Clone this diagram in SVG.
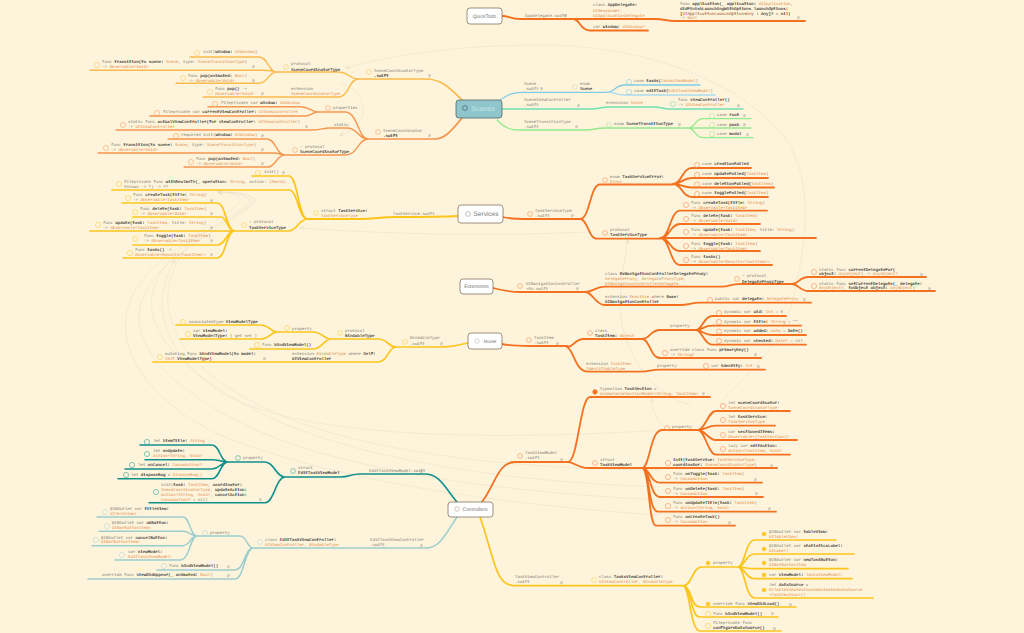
<svg xmlns="http://www.w3.org/2000/svg" width="1024" height="633" viewBox="0 0 1024 633">
<style>
text{font-family:"Liberation Mono","DejaVu Sans Mono",monospace;font-size:4.1px;fill:#7d7c72;dominant-baseline:central;text-rendering:geometricPrecision}
.n{fill:#1c1c1c;stroke:#1c1c1c;stroke-width:.08}
.o{fill:#e08a48}
.node text{font-family:"Liberation Sans",Arial,sans-serif;font-size:5px;fill:#777;text-anchor:middle}
.node rect{fill:#fff;stroke:#85735f;stroke-width:.8}
circle{fill:none;stroke-width:.6}
path{fill:none;stroke-linecap:round}
.y1 path{stroke:#fbbb4c;stroke-width:1.4}.y1 circle{stroke:#fbc66c}
.o1 path{stroke:#f6964f;stroke-width:1.4}.o1 circle{stroke:#f7a366}
.o2 path{stroke:#f4711f;stroke-width:1.8}.o2 circle{stroke:#f59058}
.yl path{stroke:#fcc51c;stroke-width:1.7}.yl circle{stroke:#fbcf45}
.bl path{stroke:#7fcbe4;stroke-width:1.3}.bl circle{stroke:#86cfe6}
.mt path{stroke:#72e0b0;stroke-width:1.4}.mt circle{stroke:#72e0b0}
.gr path{stroke:#93ea8a;stroke-width:1.3}.gr circle{stroke:#a5e89c}
.te path{stroke:#10908c;stroke-width:1.6}.te circle{stroke:#3aa5a0}
.lt path{stroke:#9ccdcd;stroke-width:1.5}.lt circle{stroke:#b5d8d6}
.f{fill:#fbc51c;stroke:#d9a010}
.fo{fill:#f4711f;stroke:#f4711f}
#faint path{stroke:#e9e3cb;stroke-width:.6;marker-end:url(#ah)}
</style>
<defs>
<marker id="ah" markerWidth="5" markerHeight="5" refX="4" refY="2.5" orient="auto" markerUnits="userSpaceOnUse"><path d="M0 .5L4 2.5L0 4.5" style="stroke:#ddd6ba;stroke-width:.5"/></marker>
<g id="p"><path d="M0-1.2H1.4V.2H0M0-1.2V1.2" style="stroke:#a5a39a;stroke-width:.5"/></g>
</defs>
<rect width="1024" height="633" fill="#fef4dc"/>
<g id="faint">
<path d="M727 405C700 408 775 365 790 310C805 255 815 190 790 145C750 85 650 45 540 45C460 45 390 55 346 68"/>
<path d="M340 84C372 90 370 130 340 135"/>
<path d="M590 232C500 236 400 235 300 228"/>
<path d="M690 405C655 395 625 360 620 310C620 280 625 260 628 240"/>
<path d="M667 428C655 420 652 410 652 399"/>
<path d="M660 515C500 505 330 480 220 435C135 395 90 320 160 262C190 235 270 205 250 196C240 192 230 192 218 192"/>
<path d="M660 500C500 492 330 470 235 420C150 375 105 320 170 262C200 235 265 205 254 198C245 194 232 192 218 192"/>
<path d="M660 487C510 482 350 460 255 410C170 365 115 310 180 250C210 225 255 205 250 200C244 195 232 192 218 192"/>
<path d="M660 470C510 470 350 450 270 410C190 375 130 310 196 235C215 218 245 205 240 198C235 194 228 192 218 192"/>
<path d="M665 430C500 440 310 440 225 395C170 360 145 310 175 260"/>
</g>
<g id="connectors">
<g class="y1"><path d="M277 72C268 72 268 57 259 57H190M277 72C272 71 270 70.3 262 70.3H90M277 72C268 72 268 83.3 259 83.3H176M358 79C349 79 349 72 338 72H277M358 79C349 79 349 97 338 97H203"/><path style="stroke-width:1.7" d="M462 100C450 88 442 79 425 79H358"/></g>
<g class="o1"><path d="M318 112C311 112 310 106.7 300 106.7H208M318 112C312 112 312 116 305 116H150M368 139C358 139 358 112 345 112H318M368 139C358 139 358 128 347 128H330C322 128 322 130 312 130H116M285 155C276 155 276 139 267 139H168M285 155C280 154 278 153 272 153H98M285 155C276 155 276 167 268 167H184M368 139C358 139 358 155 345 155H285"/><path style="stroke-width:1.7" d="M462 118C452 130 445 139 435 139H368"/></g>
<g class="bl"><path d="M500 100C508 95 512 92.3 522 92.3H607C615 92 615 85 625 85H700"/><path style="stroke:#a9daee" d="M607 92C615 92 615 95 625 95H715"/></g>
<g class="mt"><path d="M502 109H590C600 109 600 107 610 107H655C662 107 662 109 670 109H743"/></g>
<g class="gr"><path d="M497 120C505 128 510 130 520 130H585C595 130 595 128 605 128H688M688 128C695 128 695 118.7 703 118.7H751M688 128H751M688 128C695 128 695 137.7 703 137.7H753"/></g>
<g class="o2"><path d="M502 16C510 16 510 19 520 19H655C665 19 665 21 675 21H805M573 19C580 19 580 30.5 590 30.5H648"/>
<path d="M503 217C510 219 515 219 530 219H580M580 219C590 219 590 184.5 600 184.5H673M580 219C588 219 588 238.7 597 238.7H660"/>
<path d="M673 184C682 184 682 168 692 168H751M673 184C682 184 682 178 692 178H768M673 184C682 184 682 187.5 692 187.5H774M673 184C682 184 682 197 692 197H768M660 238C670 238 670 210.7 680 210.7H767M660 238C670 238 670 224 680 224H760M660 238H816M660 238C670 238 670 251 680 251H760M660 238C670 238 670 265 680 265H772"/>
<path d="M493 288C505 291 510 292 520 292H585M585 292C593 292 595 286.7 605 286.7H722C730 286.7 730 284 740 284H792M585 292C593 292 595 305 605 305H680C690 305 690 302.7 700 302.7H811M792 284C798 284 800 277 808 277H926M792 284C798 284 800 291 808 291H935"/>
<path d="M502 344C512 346 520 346 530 346H567M567 347C574 347 574 339 584 339H642M567 347C574 350 575 371.7 588 371.7H640C650 371.7 650 369.7 660 369.7H765M642 339C650 339 650 330 660 330H696M642 339C650 339 650 358 660 358H761M696 330C702 330 704 316 712 316H786M696 330C702 330 704 325.7 712 325.7H801M696 330C702 330 704 335 712 335H806M696 330C702 330 704 344.7 712 344.7H806"/>
<path d="M482 502C495 485 498 462 515 462H568M568 462C578 462 580 397 590 397H710M568 462C574 462 578 468 588 468H642M642 468C650 468 650 430 662 430H698M698 430C705 430 708 411 716 411H790M698 430C705 430 708 425.7 716 425.7H775M698 430C705 430 708 440 716 440H797M698 430C705 430 708 454.7 716 454.7H790M642 468H777M642 468C650 468 650 482.7 660 482.7H762M642 468C650 468 650 497 660 497H763M642 468C650 468 648 511.7 658 511.7H776M642 468C650 468 648 525.7 656 525.7H735"/></g>
<g class="yl"><path style="stroke-width:1.9" d="M458 216C440 217 420 217 395 217C380 217 375 219 360 219H308"/>
<path d="M308 219C298 219 298 176 289 176H252M308 219C298 219 298 190 289 190H112M308 219C298 219 298 231 288 231H235M235 231C226 231 226 203 217 203H122M235 231C227 231 227 217 221 217H133M235 231H90M235 231C226 231 226 245 217 245H133M235 231C226 231 226 258 217 258H123"/>
<path d="M468 343C455 346 450 347 435 347H396M396 347C388 347 388 339 378 339H331M396 347C388 347 388 362 378 362H153M331 339C324 339 322 332 313 332H277M331 339C324 339 322 349 313 349H250M277 332C270 332 270 325 260 325H176M277 332C270 332 270 339 260 339H180"/>
<path d="M480 517C495 560 495 585.7 515 585.7H683M683 586C692 586 692 567 702 567H738M738 567C745 567 745 540 755 540H836M738 567C745 567 745 554 755 554H854M738 567C745 567 745 568.7 755 568.7H848M738 567C745 567 745 578.7 755 578.7H852M738 567C745 567 745 598 755 598H873M683 586C692 586 690 607 700 607H796M683 586C692 586 690 617 700 617H778M683 586C690 586 690 631 700 631H781"/></g>
<g class="te"><path d="M457 502C445 488 440 474 425 474H360C350 474 350 477 340 477H285M285 477C276 477 274 462 265 462H228M285 477C276 477 274 502.7 265 502.7H149M228 462C220 462 220 445 212 445H140M228 462C220 462 220 459.7 212 459.7H145M228 462C220 462 220 469 212 469H125M228 462C220 462 220 478.7 212 478.7H118"/></g>
<g class="lt"><path d="M457 517C445 535 440 548 425 548H253M253 548C247 548 247 536 240 536H197M253 548C245 548 244 570 235 570H157M253 548C245 548 244 579 235 579H88M197 536C190 536 190 517 183 517H97M197 536C190 536 190 531.3 183 531.3H99M197 536C190 536 190 545.7 183 545.7H92M197 536C190 536 190 560 180 560H115"/></g>
</g>
<g id="Scenes" class="node"><rect x="456" y="100" width="46" height="18" rx="3" style="fill:#8fc6ce;stroke:#55625f"/><circle cx="465" cy="108" r="2.4" stroke="#445"/><text x="483" y="109.5" style="font-size:7px;fill:#c6e6e6">Scenes</text></g>
<g id="QuickTodo" class="node"><rect x="467" y="8" width="35" height="16" rx="3"/><text x="484.5" y="16.5">QuickTodo</text></g>
<g id="Services" class="node"><rect x="458" y="205" width="45" height="18" rx="3"/><circle cx="468" cy="214" r="2.4" stroke="#999"/><text x="486" y="214.5" style="font-size:6.5px">Services</text></g>
<g id="Extensions" class="node"><rect x="460" y="279" width="33" height="15" rx="3"/><text x="476.5" y="287">Extensions</text></g>
<g id="Model" class="node"><rect x="468" y="333" width="34" height="16" rx="3"/><circle cx="477" cy="341" r="2.2" stroke="#bbb"/><text x="490" y="341.5" style="font-size:4.6px">Model</text></g>
<g id="Controllers" class="node"><rect x="448" y="502" width="45" height="15" rx="3"/><circle cx="457" cy="509" r="2.3" stroke="#b99"/><text x="475" y="510" style="font-size:5.2px">Controllers</text></g>

<g id="n1" class="y1"><circle cx="197" cy="53" r="2.6"/><text x="203" y="53">init(<tspan class="n">window:</tspan> <tspan class="o">UIWindow</tspan>)</text></g>
<g id="n2" class="y1"><circle cx="97" cy="65" r="2.6"/><text x="102" y="63">func <tspan class="n">transition(to scene:</tspan> <tspan class="o">Scene</tspan>, type: <tspan class="o">SceneTransitionType</tspan>)</text><text x="102" y="68">-&gt; <tspan class="o">Observable&lt;Void&gt;</tspan></text><use href="#p" x="253" y="67"/></g>
<g id="n3" class="y1"><circle cx="183" cy="78" r="2.6"/><text x="188" y="77">func <tspan class="n">pop(animated:</tspan> <tspan class="o">Bool</tspan>)</text><text x="188" y="82">-&gt; <tspan class="o">Observable&lt;Void&gt;</tspan></text><use href="#p" x="253" y="81"/></g>
<g id="n4" class="y1"><circle cx="286" cy="67" r="2.4"/><text x="291" y="65">protocol</text><text x="291" y="70.5" class="n">SceneCoordinatorType</text></g>
<g id="n5" class="y1"><circle cx="210" cy="92" r="2.6"/><text x="215" y="90">func <tspan class="n">pop()</tspan> -&gt;</text><text x="215" y="95" class="o">Observable&lt;Void&gt;</text><use href="#p" x="262" y="94"/></g>
<g id="n6" class="y1"><text x="291" y="90">extension</text><text x="291" y="95" class="o">SceneCoordinatorType</text></g>
<g id="n7" class="y1"><circle cx="369" cy="72" r="2.4"/><text x="374" y="72">SceneCoordinatorType</text><text x="374" y="77" class="n">.swift</text><use href="#p" x="429" y="76"/></g>
<g id="n8" class="o1"><circle cx="215" cy="104" r="2.6"/><text x="221" y="104">fileprivate var <tspan class="n">window:</tspan> <tspan class="o">UIWindow</tspan></text></g>
<g id="n9" class="o1"><circle cx="157" cy="113" r="2.6"/><text x="163" y="113">fileprivate var <tspan class="n">currentViewController:</tspan> <tspan class="o">UIViewController</tspan></text></g>
<g id="n10" class="o1"><circle cx="328" cy="108" r="2.4"/><text x="333" y="109">properties</text></g>
<g id="n11" class="o1"><circle cx="123" cy="125" r="2.6"/><text x="128" y="123">static func <tspan class="n">actualViewController(for viewController:</tspan> <tspan class="o">UIViewController</tspan>)</text><text x="128" y="128">-&gt; <tspan class="o">UIViewController</tspan></text><use href="#p" x="306" y="127"/></g>
<g id="n12" class="o1"><text x="334" y="125.5">static</text></g>
<g id="n13" class="o1"><circle cx="176" cy="136" r="2.6"/><text x="181" y="136">required init(<tspan class="n">window:</tspan> <tspan class="o">UIWindow</tspan>)</text><use href="#p" x="262" y="136"/></g>
<g id="n14" class="o1"><circle cx="106" cy="148" r="2.6"/><text x="111" y="146">func <tspan class="n">transition(to scene:</tspan> <tspan class="o">Scene</tspan>, type: <tspan class="o">SceneTransitionType</tspan>)</text><text x="111" y="151">-&gt; <tspan class="o">Observable&lt;Void&gt;</tspan></text><use href="#p" x="262" y="150"/></g>
<g id="n15" class="o1"><circle cx="191" cy="162" r="2.6"/><text x="196" y="160">func <tspan class="n">pop(animated:</tspan> <tspan class="o">Bool</tspan>)</text><text x="196" y="165">-&gt; <tspan class="o">Observable&lt;Void&gt;</tspan></text><use href="#p" x="262" y="164"/></g>
<g id="n16" class="o1"><circle cx="295" cy="150" r="2.4"/><text x="300" y="148">— protocol</text><text x="300" y="153" class="n">SceneCoordinatorType</text></g>
<g id="n17" class="o1"><circle cx="378" cy="132" r="2.4"/><text x="383" y="132">SceneCoordinator</text><text x="383" y="137" class="n">.swift</text><use href="#p" x="429" y="136"/></g>

<g id="n18" class="bl"><text x="524" y="85">Scene</text><text x="524" y="90">.swift</text><use href="#p" x="541" y="89"/></g>
<g id="n19" class="bl"><circle cx="575" cy="87" r="2.4" style="stroke:#cfd7b5"/><text x="580" y="85">enum</text><text x="580" y="90" class="n">Scene</text></g>
<g id="n20" class="bl"><circle cx="629" cy="82" r="2.6"/><text x="634" y="82">case <tspan class="n">tasks(</tspan><tspan class="o">TasksViewModel</tspan>)</text></g>
<g id="n21" class="bl"><circle cx="629" cy="92" r="2.6"/><text x="634" y="92">case <tspan class="n">editTask(</tspan><tspan class="o">EditTaskViewModel</tspan>)</text></g>
<g id="n22" class="mt"><text x="524" y="101">SceneViewController</text><text x="524" y="106">.swift</text><use href="#p" x="578" y="106"/></g>
<g id="n23" class="mt"><text x="606" y="104">extension <tspan class="o">Scene</tspan></text></g>
<g id="n24" class="mt"><circle cx="673" cy="104" r="2.6"/><text x="678" y="101">func <tspan class="n">viewController()</tspan></text><text x="678" y="106">-&gt; <tspan class="o">UIViewController</tspan></text><use href="#p" x="738" y="106"/></g>
<g id="n25" class="gr"><text x="524" y="123">SceneTransitionType</text><text x="524" y="128">.swift</text><use href="#p" x="576" y="127"/></g>
<g id="n26" class="gr"><circle cx="609" cy="125" r="2.4"/><text x="614" y="125">enum <tspan class="n">SceneTransitionType</tspan></text><use href="#p" x="679" y="125"/></g>
<g id="n27" class="gr"><circle cx="712" cy="116" r="2.6"/><text x="717" y="116">case <tspan class="n">root</tspan></text><use href="#p" x="744" y="116"/></g>
<g id="n28" class="gr"><circle cx="712" cy="125" r="2.6"/><text x="717" y="125.5">case <tspan class="n">push</tspan></text><use href="#p" x="744" y="125"/></g>
<g id="n29" class="gr"><circle cx="712" cy="134" r="2.6"/><text x="717" y="135">case <tspan class="n">modal</tspan></text><use href="#p" x="747" y="135"/></g>

<g id="n30" class="o2"><text x="525" y="16.5">AppDelegate.swift</text><use href="#p" x="565" y="16"/></g>
<g id="n31" class="o2"><text x="593" y="6">class <tspan class="n">AppDelegate:</tspan></text><text x="593" y="11.5" class="o">UIResponder,</text><text x="593" y="16.5" class="o">UIApplicationDelegate</text></g>
<g id="n32" class="o2"><text x="680" y="4.5">func <tspan class="n">application(_ application:</tspan> <tspan class="o">UIApplication</tspan>,</text><text x="680" y="9.5" class="n">didFinishLaunchingWithOptions launchOptions:</text><text x="680" y="14.5" class="n">[<tspan class="o">UIApplicationLaunchOptionsKey</tspan> : Any]? = nil)</text><text x="680" y="19">-&gt; <tspan class="o">Bool</tspan></text><use href="#p" x="798" y="18"/></g>
<g id="n33" class="o2"><text x="593" y="28">var <tspan class="n">window:</tspan> <tspan class="o">UIWindow?</tspan></text></g>

<g id="n34" class="yl"><circle cx="258" cy="173" r="2.6"/><text x="264" y="173">init()</text><use href="#p" x="283" y="173"/></g>
<g id="n35" class="yl"><circle cx="119" cy="184" r="2.6"/><text x="124" y="182.5">fileprivate func <tspan class="n">withRealm&lt;T&gt;(_ operation:</tspan> <tspan class="o">String</tspan>, action: <tspan class="o">(Realm)</tspan></text><text x="124" y="187.5">throws -&gt; T) -&gt; T?</text></g>
<g id="n36" class="yl"><circle cx="316" cy="213" r="2.4"/><text x="321" y="212">struct <tspan class="n">TaskService:</tspan></text><text x="321" y="217" class="o">TaskServiceType</text></g>
<g id="n37" class="yl"><text x="393" y="215">TaskService.swift</text></g>
<g id="n38" class="yl"><circle cx="244" cy="225" r="2.4"/><text x="249" y="223">— protocol</text><text x="249" y="228.5" class="n">TaskServiceType</text></g>
<g id="n39" class="yl"><circle cx="128" cy="198" r="2.6"/><text x="133" y="196">func <tspan class="n">createTask(title:</tspan> <tspan class="o">String</tspan>)</text><text x="133" y="201">-&gt; <tspan class="o">Observable&lt;TaskItem&gt;</tspan></text><use href="#p" x="211" y="201"/></g>
<g id="n40" class="yl"><circle cx="135" cy="212" r="2.6"/><text x="140" y="209.5">func <tspan class="n">delete(task:</tspan> <tspan class="o">TaskItem</tspan>)</text><text x="140" y="214.5">-&gt; <tspan class="o">Observable&lt;Void&gt;</tspan></text><use href="#p" x="211" y="214"/></g>
<g id="n41" class="yl"><circle cx="98" cy="225" r="2.6"/><text x="103" y="224">func <tspan class="n">update(task:</tspan> <tspan class="o">TaskItem</tspan>, title: <tspan class="o">String</tspan>)</text><text x="103" y="228.5">-&gt; <tspan class="o">Observable&lt;TaskItem&gt;</tspan></text><use href="#p" x="211" y="228"/></g>
<g id="n42" class="yl"><circle cx="135" cy="239" r="2.6"/><text x="144" y="237">func <tspan class="n">toggle(task:</tspan> <tspan class="o">TaskItem</tspan>)</text><text x="144" y="242">-&gt; <tspan class="o">Observable&lt;TaskItem&gt;</tspan></text><use href="#p" x="211" y="241"/></g>
<g id="n43" class="yl"><circle cx="130" cy="253" r="2.6"/><text x="135" y="250.5">func <tspan class="n">tasks()</tspan> -&gt;</text><text x="135" y="255.5" class="o">Observable&lt;Results&lt;TaskItem&gt;&gt;</text><use href="#p" x="211" y="255"/></g>

<g id="n44" class="o2"><circle cx="530" cy="214" r="2.4"/><text x="535" y="212">TaskServiceType</text><text x="535" y="217">.swift</text><use href="#p" x="572" y="216"/></g>
<g id="n45" class="o2"><circle cx="605" cy="180" r="2.4"/><text x="610" y="178">enum  <tspan class="n">TaskServiceError:</tspan></text><text x="610" y="183" class="o">Error</text></g>
<g id="n46" class="o2"><circle cx="605" cy="233" r="2.4"/><text x="610" y="231">protocol</text><text x="610" y="236" class="n">TaskServiceType</text></g>
<g id="n47" class="o2"><circle cx="697" cy="165" r="2.6"/><text x="702" y="165">case <tspan class="n">creationFailed</tspan></text></g>
<g id="n48" class="o2"><circle cx="697" cy="175" r="2.6"/><text x="702" y="175">case <tspan class="n">updateFailed(</tspan><tspan class="o">TaskItem</tspan>)</text></g>
<g id="n49" class="o2"><circle cx="697" cy="184.5" r="2.6"/><text x="702" y="184.5">case <tspan class="n">deletionFailed(</tspan><tspan class="o">TaskItem</tspan>)</text></g>
<g id="n50" class="o2"><circle cx="697" cy="194" r="2.6"/><text x="702" y="194">case <tspan class="n">toggleFailed(</tspan><tspan class="o">TaskItem</tspan>)</text></g>
<g id="n51" class="o2"><circle cx="686" cy="205" r="2.6"/><text x="691" y="204">func <tspan class="n">createTask(title:</tspan> <tspan class="o">String</tspan>)</text><text x="691" y="209">-&gt; <tspan class="o">Observable&lt;TaskItem&gt;</tspan></text></g>
<g id="n52" class="o2"><circle cx="686" cy="219" r="2.6"/><text x="691" y="217">func <tspan class="n">delete(task:</tspan> <tspan class="o">TaskItem</tspan>)</text><text x="691" y="222">-&gt; <tspan class="o">Observable&lt;Void&gt;</tspan></text></g>
<g id="n53" class="o2"><circle cx="686" cy="232" r="2.6"/><text x="691" y="231">func <tspan class="n">update(task:</tspan> <tspan class="o">TaskItem</tspan>, title: <tspan class="o">String</tspan>)</text><text x="691" y="236">-&gt; <tspan class="o">Observable&lt;TaskItem&gt;</tspan></text></g>
<g id="n54" class="o2"><circle cx="686" cy="246" r="2.6"/><text x="691" y="244.5">func <tspan class="n">toggle(task:</tspan> <tspan class="o">TaskItem</tspan>)</text><text x="691" y="249.5">-&gt; <tspan class="o">Observable&lt;TaskItem&gt;</tspan></text></g>
<g id="n55" class="o2"><circle cx="686" cy="260" r="2.6"/><text x="691" y="258">func <tspan class="n">tasks()</tspan></text><text x="691" y="263">-&gt; <tspan class="o">Observable&lt;Results&lt;TaskItem&gt;&gt;</tspan></text></g>

<g id="n56" class="o2"><circle cx="520" cy="286" r="2.4"/><text x="526" y="284.5">UINavigationController</text><text x="526" y="290">+Rx.swift</text><use href="#p" x="577" y="289"/></g>
<g id="n57" class="o2"><text x="605" y="274.5">class <tspan class="n">RxNavigationControllerDelegateProxy:</tspan></text><text x="605" y="280" class="o">DelegateProxy, DelegateProxyType,</text><text x="605" y="285" class="o">UINavigationControllerDelegate</text></g>
<g id="n58" class="o2"><text x="605" y="298">extension <tspan class="o">Reactive</tspan> where <tspan class="n">Base:</tspan></text><text x="605" y="303" class="n">UINavigationController</text></g>
<g id="n59" class="o2"><circle cx="737" cy="279" r="2.4"/><text x="742" y="277">— protocol</text><text x="742" y="282.5" class="n">DelegateProxyType</text></g>
<g id="n60" class="o2"><circle cx="814" cy="272" r="2.6"/><text x="819" y="270.5">static func <tspan class="n">currentDelegateFor(</tspan></text><text x="819" y="275"><tspan class="n">object:</tspan> <tspan class="o">AnyObject</tspan>) -&gt; <tspan class="o">AnyObject?</tspan></text><use href="#p" x="921" y="275"/></g>
<g id="n61" class="o2"><circle cx="814" cy="286" r="2.6"/><text x="819" y="284.5">static func <tspan class="n">setCurrentDelegate(_ delegate:</tspan></text><text x="819" y="289"><tspan class="o">AnyObject?</tspan>, <tspan class="n">toObject object:</tspan> <tspan class="o">AnyObject</tspan>)</text><use href="#p" x="929" y="289"/></g>
<g id="n62" class="o2"><circle cx="710" cy="300" r="2.6"/><text x="715" y="300">public var <tspan class="n">delegate:</tspan> <tspan class="o">DelegateProxy</tspan></text><use href="#p" x="804" y="300"/></g>

<g id="n63" class="yl"><circle cx="183" cy="322" r="2.6"/><text x="189" y="322.5">associatedtype <tspan class="n">ViewModelType</tspan></text></g>
<g id="n64" class="yl"><circle cx="188" cy="334" r="2.6"/><text x="193" y="332">var <tspan class="n">viewModel:</tspan></text><text x="193" y="337"><tspan class="n">ViewModelType!</tspan> { get set }</text></g>
<g id="n65" class="yl"><circle cx="287" cy="328" r="2.4"/><text x="292" y="329.5">property</text></g>
<g id="n66" class="yl"><circle cx="340" cy="333" r="2.4"/><text x="345" y="332">protocol</text><text x="345" y="337" class="n">BindableType</text></g>
<g id="n67" class="yl"><circle cx="257" cy="345" r="2.6"/><text x="262" y="345.5">func <tspan class="n">bindViewModel()</tspan></text></g>
<g id="n68" class="yl"><circle cx="405" cy="342" r="2.4"/><text x="410" y="339">BindableType</text><text x="410" y="344.5">.swift</text><use href="#p" x="441" y="344"/></g>
<g id="n69" class="yl"><circle cx="160" cy="357" r="2.6"/><text x="165" y="355">mutating func <tspan class="n">bindViewModel(to model:</tspan></text><text x="165" y="360"><tspan class="o">Self</tspan>.<tspan class="n">ViewModelType)</tspan></text><use href="#p" x="264" y="359"/></g>
<g id="n70" class="yl"><text x="292" y="355">extension <tspan class="o">BindableType</tspan> where <tspan class="n">Self:</tspan></text><text x="292" y="360" class="n">UIViewController</text></g>

<g id="n71" class="o2"><circle cx="529" cy="340" r="2.4"/><text x="534" y="339">TaskItem</text><text x="534" y="344">.swift</text><use href="#p" x="557" y="344"/></g>
<g id="n72" class="o2"><circle cx="590" cy="333" r="2.4"/><text x="595" y="332">class</text><text x="595" y="337"><tspan class="n">TaskItem:</tspan> <tspan class="o">Object</tspan></text></g>
<g id="n73" class="o2"><text x="670" y="327">property</text></g>
<g id="n74" class="o2"><circle cx="719" cy="313" r="2.6"/><text x="724" y="313">dynamic var <tspan class="n">uid:</tspan> <tspan class="o">Int</tspan> = 0</text></g>
<g id="n75" class="o2"><circle cx="719" cy="322" r="2.6"/><text x="724" y="322.5">dynamic var <tspan class="n">title:</tspan> <tspan class="o">String</tspan> = ""</text></g>
<g id="n76" class="o2"><circle cx="719" cy="331.5" r="2.6"/><text x="724" y="331.5">dynamic var <tspan class="n">added:</tspan> <tspan class="o">Date</tspan> = <tspan class="n">Date()</tspan></text></g>
<g id="n77" class="o2"><circle cx="719" cy="341" r="2.6"/><text x="724" y="341.5">dynamic var <tspan class="n">checked:</tspan> <tspan class="o">Date?</tspan> = nil</text></g>
<g id="n78" class="o2"><circle cx="665" cy="353" r="2.6"/><text x="670" y="351">override class func <tspan class="n">primaryKey()</tspan></text><text x="670" y="356">-&gt; <tspan class="o">String?</tspan></text><use href="#p" x="755" y="355"/></g>
<g id="n79" class="o2"><text x="586" y="365">extension <tspan class="o">TaskItem:</tspan></text><text x="586" y="370" class="o">IdentifiableType</text></g>
<g id="n80" class="o2"><text x="657" y="367">property</text></g>
<g id="n81" class="o2"><circle cx="706" cy="366" r="2.6"/><text x="711" y="367">var <tspan class="n">identity:</tspan> <tspan class="o">Int</tspan></text><use href="#p" x="758" y="367"/></g>

<g id="n82" class="o2"><circle cx="520" cy="456" r="2.4"/><text x="525" y="454">TaskViewModel</text><text x="525" y="459">.swift</text><use href="#p" x="561" y="460"/></g>
<g id="n83" class="o2"><circle class="fo" cx="595" cy="392" r="2.4"/><text x="600" y="390">typealias <tspan class="n">TaskSection =</tspan></text><text x="600" y="395" class="o">AnimatableSectionModel&lt;String, TaskItem&gt;</text><use href="#p" x="703" y="394"/></g>
<g id="n84" class="o2"><circle cx="595" cy="463" r="2.4"/><text x="600" y="461">struct</text><text x="600" y="466" class="n">TaskViewModel</text></g>
<g id="n85" class="o2"><circle cx="667" cy="428" r="2.4"/><text x="672" y="428">property</text></g>
<g id="n86" class="o2"><circle cx="723" cy="406" r="2.6"/><text x="728" y="404">let <tspan class="n">sceneCoordinator:</tspan></text><text x="728" y="409" class="o">SceneCoordinatorType</text></g>
<g id="n87" class="o2"><circle cx="723" cy="420" r="2.6"/><text x="728" y="418">let <tspan class="n">taskService:</tspan></text><text x="728" y="423" class="o">TaskServiceType</text></g>
<g id="n88" class="o2"><circle cx="723" cy="435" r="2.6"/><text x="728" y="433">var <tspan class="n">sectionedItems:</tspan></text><text x="728" y="438" class="o">Observable&lt;[TaskSection]&gt;</text></g>
<g id="n89" class="o2"><circle cx="723" cy="449" r="2.6"/><text x="728" y="447">lazy var <tspan class="n">editAction:</tspan></text><text x="728" y="452" class="o">Action&lt;TaskItem, Void&gt;</text></g>
<g id="n90" class="o2"><circle cx="668" cy="463" r="2.6"/><text x="673" y="461"><tspan class="n">init(taskService:</tspan> <tspan class="o">TaskServiceType</tspan>,</text><text x="673" y="466"><tspan class="n">coordinator:</tspan> <tspan class="o">SceneCoordinatorType</tspan>)</text><use href="#p" x="771" y="466"/></g>
<g id="n91" class="o2"><circle cx="668" cy="477" r="2.6"/><text x="673" y="475">func <tspan class="n">onToggle(task:</tspan> <tspan class="o">TaskItem</tspan>)</text><text x="673" y="480">-&gt; <tspan class="o">CocoaAction</tspan></text><use href="#p" x="755" y="480"/></g>
<g id="n92" class="o2"><circle cx="668" cy="491" r="2.6"/><text x="673" y="489.5">func <tspan class="n">onDelete(task:</tspan> <tspan class="o">TaskItem</tspan>)</text><text x="673" y="494.5">-&gt; <tspan class="o">CocoaAction</tspan></text><use href="#p" x="756" y="494"/></g>
<g id="n93" class="o2"><circle cx="668" cy="506" r="2.6"/><text x="673" y="504">func <tspan class="n">onUpdateTitle(task:</tspan> <tspan class="o">TaskItem</tspan>)</text><text x="673" y="509">-&gt; <tspan class="o">Action&lt;String, Void&gt;</tspan></text><use href="#p" x="769" y="509"/></g>
<g id="n94" class="o2"><circle cx="668" cy="520" r="2.6"/><text x="673" y="518">func <tspan class="n">onCreateTask()</tspan></text><text x="673" y="523">-&gt; <tspan class="o">CocoaAction</tspan></text><use href="#p" x="729" y="523"/></g>

<g id="n95" class="te"><circle cx="147" cy="442" r="2.6"/><text x="153" y="442">let <tspan class="n">itemTitle:</tspan> <tspan class="o">String</tspan></text></g>
<g id="n96" class="te"><circle cx="147" cy="454" r="2.6"/><text x="153" y="452">let <tspan class="n">onUpdate:</tspan></text><text x="153" y="457" class="o">Action&lt;String, Void&gt;</text></g>
<g id="n97" class="te"><circle cx="132" cy="465" r="2.6"/><text x="138" y="466">let <tspan class="n">onCancel:</tspan> <tspan class="o">CocoaAction?</tspan></text></g>
<g id="n98" class="te"><circle cx="126" cy="475" r="2.6"/><text x="131" y="476">let <tspan class="n">disposeBag =</tspan> <tspan class="o">DisposeBag()</tspan></text></g>
<g id="n99" class="te"><circle cx="238" cy="458" r="2.4"/><text x="243" y="459">property</text></g>
<g id="n100" class="te"><circle cx="156" cy="492" r="2.6"/><text x="161" y="485.5">init(<tspan class="n">task:</tspan> <tspan class="o">TaskItem</tspan>, <tspan class="n">coordinator:</tspan></text><text x="161" y="491"><tspan class="o">SceneCoordinatorType</tspan>, <tspan class="n">updateAction:</tspan></text><text x="161" y="496"><tspan class="o">Action&lt;String, Void&gt;</tspan>, <tspan class="n">cancelAction:</tspan></text><text x="161" y="501"><tspan class="o">CocoaAction?</tspan> = nil)</text><use href="#p" x="260" y="500"/></g>
<g id="n101" class="te"><circle cx="293" cy="471" r="2.4"/><text x="298" y="469">struct</text><text x="298" y="474" class="n">EditTaskViewModel</text></g>
<g id="n102" class="te"><text x="369" y="472">EditTaskViewModel.swift</text><use href="#p" x="421" y="472"/></g>
<g id="n103" class="lt"><circle cx="105" cy="512" r="2.6"/><text x="110" y="510">@IBOutlet var <tspan class="n">titleView:</tspan></text><text x="110" y="515" class="o">UITextView!</text></g>
<g id="n104" class="lt"><circle cx="107" cy="526" r="2.6"/><text x="112" y="524">@IBOutlet var <tspan class="n">okButton:</tspan></text><text x="112" y="529" class="o">UIBarButtonItem!</text></g>
<g id="n105" class="lt"><circle cx="96" cy="540" r="2.6"/><text x="101" y="538.5">@IBOutlet var <tspan class="n">cancelButton:</tspan></text><text x="101" y="543" class="o">UIBarButtonItem!</text></g>
<g id="n106" class="lt"><circle cx="122" cy="555" r="2.6"/><text x="128" y="553">var <tspan class="n">viewModel:</tspan></text><text x="128" y="558" class="o">EditTaskViewModel!</text></g>
<g id="n107" class="lt"><circle cx="205" cy="533" r="2.4"/><text x="210" y="534">property</text></g>
<g id="n108" class="lt"><circle cx="164" cy="566" r="2.6"/><text x="169" y="567">func <tspan class="n">bindViewModel()</tspan></text><use href="#p" x="228" y="567"/></g>
<g id="n109" class="lt"><text x="102" y="576">override func <tspan class="n">viewDidAppear(_ animated:</tspan> <tspan class="o">Bool</tspan>)</text><use href="#p" x="228" y="576"/></g>
<g id="n110" class="lt"><circle cx="260" cy="542" r="2.4"/><text x="265" y="541">class <tspan class="n">EditTaskViewController:</tspan></text><text x="265" y="546" class="o">UIViewController, BindableType</text></g>
<g id="n111" class="lt"><text x="370" y="541">EditTaskViewController</text><text x="370" y="546">.swift</text><use href="#p" x="421" y="546"/></g>

<g id="n112" class="yl"><text x="515" y="578">TaskViewController</text><text x="515" y="583">.swift</text><use href="#p" x="561" y="583"/></g>
<g id="n113" class="yl"><circle cx="594" cy="580" r="2.4"/><text x="599" y="578">class <tspan class="n">TasksViewController:</tspan></text><text x="599" y="583" class="o">UIViewController, BindableType</text></g>
<g id="n114" class="yl"><circle class="f" cx="708" cy="563" r="2"/><text x="713" y="564">property</text></g>
<g id="n115" class="yl"><circle class="f" cx="764" cy="534" r="2"/><text x="769" y="533">@IBOutlet var <tspan class="n">tableView:</tspan></text><text x="769" y="538" class="o">UITableView!</text></g>
<g id="n116" class="yl"><circle class="f" cx="764" cy="549" r="2"/><text x="769" y="547">@IBOutlet var <tspan class="n">statisticsLabel:</tspan></text><text x="769" y="552" class="o">UILabel!</text></g>
<g id="n117" class="yl"><circle class="f" cx="764" cy="563" r="2"/><text x="769" y="561">@IBOutlet var <tspan class="n">newTaskButton:</tspan></text><text x="769" y="566" class="o">UIBarButtonItem</text></g>
<g id="n118" class="yl"><circle class="f" cx="764" cy="575" r="2"/><text x="769" y="575.5">var <tspan class="n">viewModel:</tspan> <tspan class="o">TasksViewModel!</tspan></text></g>
<g id="n119" class="yl"><circle class="f" cx="764" cy="590" r="2"/><text x="769" y="585.5">let <tspan class="n">dataSource =</tspan></text><text x="769" y="590.5" class="o">RxTableViewSectionedAnimatedDataSource</text><text x="769" y="595.5" class="o">&lt;TaskSection&gt;()</text></g>
<g id="n120" class="yl"><circle class="f" cx="708" cy="604" r="2"/><text x="713" y="605">override func <tspan class="n">viewDidLoad()</tspan></text><use href="#p" x="790" y="605"/></g>
<g id="n121" class="yl"><circle cx="708" cy="614" r="2.6"/><text x="713" y="614.5">func <tspan class="n">bindViewModel()</tspan></text><use href="#p" x="772" y="614"/></g>
<g id="n122" class="yl"><circle cx="708" cy="626" r="2.6"/><text x="713" y="624">fileprivate func</text><text x="713" y="629" class="n">configureDataSource()</text><use href="#p" x="774" y="629"/></g>
</svg>
